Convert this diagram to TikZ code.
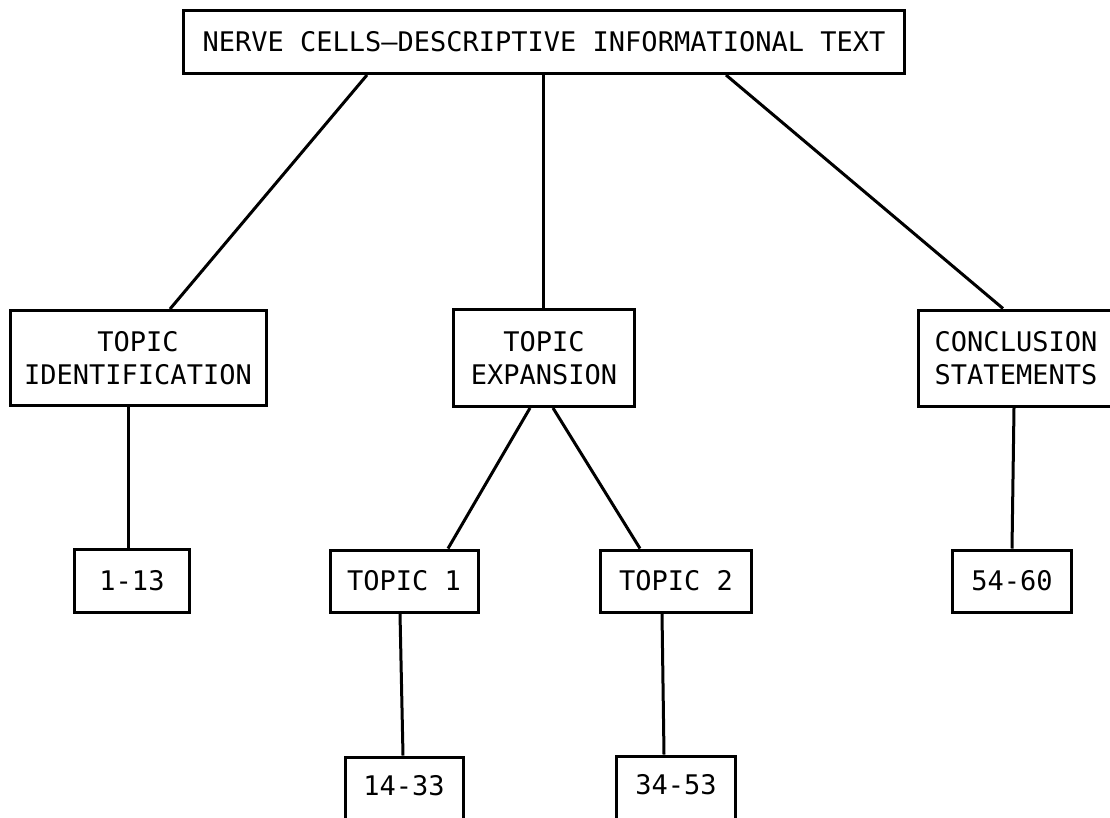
\documentclass[tikz,border=0pt]{standalone}
\usepackage{fontspec}
\newfontfamily\typewriter{DejaVu Sans Mono}
\usetikzlibrary{positioning}

\tikzset{
  box/.style={draw, line width=3pt, inner sep=0pt, align=center,
    font=\typewriter\fontsize{27}{33}\selectfont},
  cutbox/.style={box, text height=38pt, text depth=30pt},
  link/.style={line width=3pt}
}

\begin{document}
\begin{tikzpicture}[x=1pt, y=-1pt, node distance=100pt, on grid]
  \clip (0,0) rectangle (1110,817);
  \fill[white] (0,0) rectangle (1110,817);
  \node[box, minimum width=721pt, minimum height=63pt] (nc) at (544,42) {NERVE CELLS—DESCRIPTIVE INFORMATIONAL TEXT};
  \node[box, minimum width=181pt, minimum height=97pt] (te) [below=316pt of nc] {TOPIC\\EXPANSION};
  \node[box, minimum width=256pt, minimum height=95pt] (ti) [left=406pt of te] {TOPIC\\IDENTIFICATION};
  \node[box, minimum width=196pt, minimum height=96pt] (cs) [right=472pt of te] {CONCLUSION\\STATEMENTS};
  \node[box, minimum width=148pt, minimum height=62pt] (t1) [below left=223pt and 140pt of te] {TOPIC 1};
  \node[box, minimum width=151pt, minimum height=62pt] (t2) [right=272pt of t1] {TOPIC 2};
  \node[box, minimum width=115pt, minimum height=63pt] (n113) [left=272pt of t1] {1-13};
  \node[box, minimum width=119pt, minimum height=62pt] (n5460) [right=336pt of t2] {54-60};
  \node[cutbox, minimum width=118pt] (n1433) [below=210pt of t1] {14-33};
  \node[cutbox, minimum width=119pt] (n3453) [below=209pt of t2] {34-53};
  % connectors
  \draw[link] ([xshift=-177pt]nc.south) -- ([xshift=32pt]ti.north);
  \draw[link] ([xshift=-1pt]nc.south) -- ([xshift=-1pt]te.north);
  \draw[link] ([xshift=182pt]nc.south) -- ([xshift=-13pt]cs.north);
  \draw[link] ([xshift=-10pt]ti.south) -- ([xshift=-4pt]n113.north);
  \draw[link] ([xshift=-14pt]te.south) -- ([xshift=44pt]t1.north);
  \draw[link] ([xshift=9pt]te.south) -- ([xshift=-36pt]t2.north);
  \draw[link] ([xshift=-2pt]cs.south) -- (n5460.north);
  \draw[link] ([xshift=-4pt]t1.south) -- ([xshift=-1pt]n1433.north);
  \draw[link] ([xshift=-14pt]t2.south) -- ([xshift=-12pt]n3453.north);
\end{tikzpicture}
\end{document}
